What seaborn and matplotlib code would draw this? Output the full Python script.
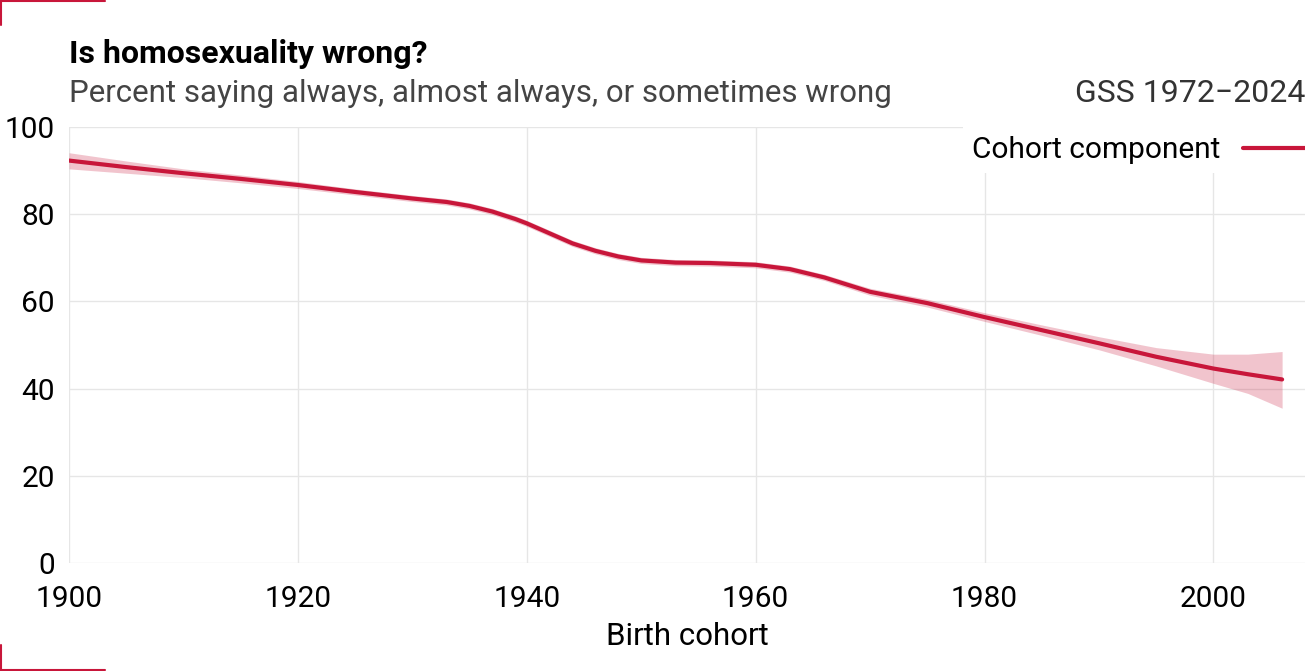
import numpy as np
import pandas as pd
import seaborn as sns
from matplotlib import pyplot as plt
from matplotlib.lines import Line2D

# values
cohort = [1900, 1905, 1910, 1915, 1920, 1925, 1930, 1933, 1935, 1937,
          1939, 1940, 1942, 1944, 1946, 1948, 1950, 1953, 1956, 1960,
          1963, 1966, 1970, 1975, 1980, 1985, 1990, 1995, 2000, 2003, 2006]
pct_wrong = [92.3, 90.8, 89.4, 88.1, 86.7, 85.1, 83.6, 82.8, 81.9, 80.6,
             78.9, 77.9, 75.6, 73.3, 71.6, 70.3, 69.4, 68.9, 68.8, 68.4,
             67.4, 65.5, 62.2, 59.6, 56.4, 53.4, 50.4, 47.3, 44.6, 43.3, 42.1]
ci_low = [90.4, 89.4, 88.4, 87.2, 85.9, 84.4, 82.9, 82.1, 81.2, 79.9,
          78.2, 77.2, 74.9, 72.6, 70.9, 69.6, 68.7, 68.2, 68.1, 67.7,
          66.7, 64.8, 61.4, 58.7, 55.4, 52.2, 48.9, 45.2, 41.2, 38.9, 35.5]
ci_high = [94.1, 92.2, 90.4, 89.0, 87.5, 85.8, 84.3, 83.5, 82.6, 81.3,
           79.6, 78.6, 76.3, 74.0, 72.3, 71.0, 70.1, 69.6, 69.5, 69.1,
           68.1, 66.2, 63.0, 60.5, 57.4, 54.6, 51.9, 49.4, 47.9, 47.9, 48.5]

RED = "#c8163a"

df = pd.DataFrame({"cohort": cohort, "pct": pct_wrong,
                   "lo": ci_low, "hi": ci_high})

sns.set_theme(style="whitegrid")
plt.rcParams["font.family"] = ["Roboto", "DejaVu Sans"]

fig = plt.figure(figsize=(13.05, 6.71), dpi=100)
ax = fig.add_axes([69 / 1305, 1 - 563 / 671, 1 - 69 / 1305, (563 - 127) / 671])

ax.fill_between(df["cohort"], df["lo"], df["hi"], color=RED, alpha=0.25,
                linewidth=0)
sns.lineplot(data=df, x="cohort", y="pct", color=RED, linewidth=3,
             label="Cohort component", ax=ax)

ax.set_xlim(1900, 2008)
ax.set_ylim(0, 100)
ax.set_xticks([1900, 1920, 1940, 1960, 1980, 2000])
ax.set_yticks([0, 20, 40, 60, 80, 100])
ax.grid(color="#e6e6e6", linewidth=1)
for s in ax.spines.values():
    s.set_visible(False)
ax.tick_params(axis="both", labelsize=21.5, colors="black", length=0)
ax.tick_params(axis="y", pad=10)
ax.tick_params(axis="x", pad=16)
ax.set_xlabel("Birth cohort", fontsize=22.5, color="black", labelpad=6)
ax.set_ylabel("")

leg = ax.legend(loc="upper right", bbox_to_anchor=(1.0075, 1.0),
                fontsize=21.5, frameon=True, framealpha=1,
                edgecolor="white", facecolor="white", markerfirst=False,
                borderaxespad=0, handlelength=2.1, handletextpad=0.75,
                borderpad=0.3, fancybox=False)
leg.get_frame().set_linewidth(0)
for t in leg.get_texts():
    t.set_color("black")

fig.text(69 / 1305, 1 - 63 / 671, "Is homosexuality wrong?", fontsize=23,
         fontweight="bold", color="black", va="baseline", ha="left")
fig.text(69 / 1305, 1 - 102 / 671,
         "Percent saying always, almost always, or sometimes wrong",
         fontsize=22.5, color="#444444", va="baseline", ha="left")
fig.text(1.0, 1 - 102 / 671, "GSS 1972\u22122024", fontsize=23,
         color="#333333", va="baseline", ha="right")

# corner marks
corner = dict(color=RED, linewidth=1.5, transform=fig.transFigure)
fig.add_artist(Line2D([0, 105 / 1305], [1 - 1 / 671, 1 - 1 / 671], **corner))
fig.add_artist(Line2D([1 / 1305, 1 / 1305], [1, 1 - 25 / 671], **corner))
fig.add_artist(Line2D([0, 105 / 1305], [1 / 671, 1 / 671], **corner))
fig.add_artist(Line2D([1 / 1305, 1 / 1305], [0, 26 / 671], **corner))

fig.savefig("out.png", dpi=100)
